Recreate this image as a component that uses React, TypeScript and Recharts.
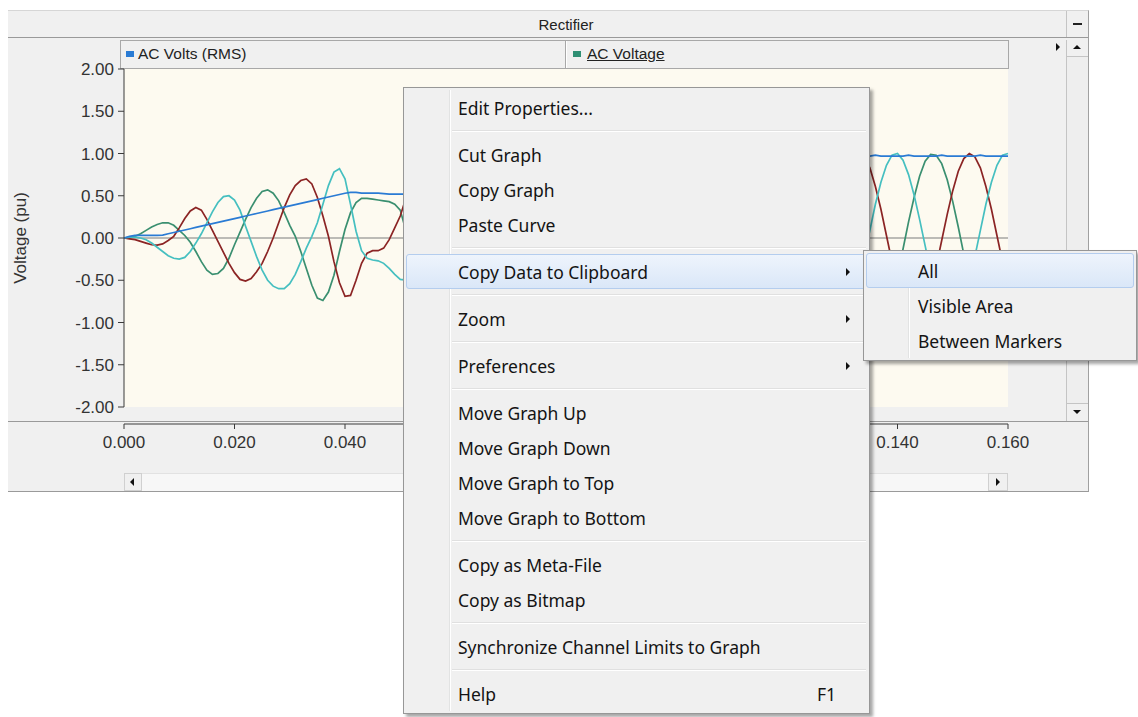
import { LineChart, Line, XAxis, YAxis, CartesianGrid, ReferenceLine, Label } from 'recharts';

// sample times in milliseconds (dense where the trace is visible, sparse behind the menu)
const timeMs = [
  0, 1, 2, 3, 4, 5, 6, 7, 8, 9, 10, 11, 12, 13, 14, 15, 16, 17, 18, 19, 20,
  21, 22, 23, 24, 25, 26, 27, 28, 29, 30, 31, 32, 33, 34, 35, 36, 37, 38, 39, 40,
  41, 42, 43, 44, 45, 46, 47, 48, 49, 50,
  52.5, 55, 57.5, 60, 62.5, 65, 67.5, 70, 72.5, 75, 77.5, 80, 82.5, 85, 87.5, 90,
  92.5, 95, 97.5, 100, 102.5, 105, 107.5, 110, 112.5, 115, 117.5, 120, 122.5, 125,
  127.5, 130, 132.5,
  134, 135, 136, 137, 138, 139, 140, 141, 142, 143, 144, 145, 146, 147, 148, 149,
  150, 151, 152, 153, 154, 155, 156, 157, 158, 159, 160,
];

const acVoltsRms = [
  0, 0.02, 0.03, 0.03, 0.03, 0.03, 0.03, 0.035, 0.05, 0.065, 0.08, 0.095, 0.11, 0.125,
  0.14, 0.155, 0.17, 0.185, 0.2, 0.215, 0.23, 0.245, 0.26, 0.275, 0.29, 0.305, 0.32,
  0.335, 0.35, 0.365, 0.38, 0.395, 0.41, 0.425, 0.44, 0.455, 0.47, 0.485, 0.5, 0.515,
  0.53, 0.54, 0.54, 0.53, 0.53, 0.53, 0.53, 0.525, 0.52, 0.52, 0.52,
  0.52, 0.55, 0.6, 0.65, 0.7, 0.74, 0.78, 0.82, 0.85, 0.88, 0.9, 0.92, 0.93, 0.94,
  0.95, 0.96, 0.96, 0.97, 0.97, 0.97, 0.97, 0.97, 0.97, 0.97, 0.97, 0.97, 0.97, 0.97,
  0.97, 0.97, 0.97, 0.97, 0.97,
  0.97, 0.97, 0.98, 0.97, 0.97, 0.97, 0.97, 0.97, 0.98, 0.97, 0.97, 0.97, 0.97, 0.97,
  0.98, 0.97, 0.97, 0.97, 0.97, 0.97, 0.97, 0.98, 0.97, 0.97, 0.97, 0.97, 0.97,
];

const phaseA = [
  0, -0.01, -0.02, -0.04, -0.06, -0.08, -0.085, -0.07, -0.03, 0.02, 0.12, 0.23, 0.32,
  0.36, 0.33, 0.22, 0.09, -0.04, -0.17, -0.3, -0.41, -0.49, -0.51, -0.48, -0.4, -0.3,
  -0.16, 0, 0.18, 0.36, 0.51, 0.62, 0.68, 0.7, 0.64, 0.48, 0.26, 0.02, -0.28, -0.53,
  -0.69, -0.68, -0.5, -0.3, -0.18, -0.15, -0.15, -0.12, -0.02, 0.12, 0.26,
  0.78, 0.66, 0.15, -0.45, -0.88, -0.75, -0.17, 0.5, 0.88, 0.75, 0.19, -0.56, -0.98,
  -0.83, -0.19, 0.56, 0.98, 0.83, 0.19, -0.56, -0.98, -0.83, -0.19, 0.56, 0.98, 0.83,
  0.19, -0.56, -0.98, -0.83, -0.19, 0.56, 0.98,
  0.96, 0.83, 0.61, 0.34, 0.03, -0.28, -0.56, -0.79, -0.94, -1.0, -0.96, -0.83, -0.61,
  -0.34, -0.03, 0.28, 0.56, 0.79, 0.94, 1.0, 0.96, 0.83, 0.61, 0.34, 0.03, -0.28, -0.56,
];

const phaseB = [
  0, 0, 0.02, 0.05, 0.09, 0.13, 0.16, 0.18, 0.18, 0.15, 0.09, 0.03, -0.05, -0.16,
  -0.28, -0.38, -0.43, -0.42, -0.36, -0.24, -0.08, 0.07, 0.22, 0.36, 0.47, 0.55, 0.57,
  0.53, 0.44, 0.3, 0.15, 0.02, -0.16, -0.36, -0.56, -0.71, -0.74, -0.64, -0.44, -0.16,
  0.1, 0.3, 0.42, 0.47, 0.47, 0.46, 0.45, 0.44, 0.43, 0.4, 0.33,
  -0.27, -0.73, -0.75, -0.34, 0.31, 0.82, 0.85, 0.39, -0.31, -0.82, -0.94, -0.43, 0.34,
  0.91, 0.94, 0.43, -0.34, -0.91, -0.94, -0.43, 0.34, 0.91, 0.94, 0.43, -0.34, -0.91,
  -0.94, -0.43, 0.34, 0.91, 0.94, 0.43, -0.34,
  -0.73, -0.91, -0.99, -0.98, -0.88, -0.69, -0.43, -0.13, 0.19, 0.48, 0.73, 0.91, 0.99,
  0.98, 0.88, 0.69, 0.43, 0.13, -0.19, -0.48, -0.73, -0.91, -0.99, -0.98, -0.88, -0.69,
  -0.43,
];

const phaseC = [
  0, 0.01, 0.01, 0, -0.02, -0.06, -0.11, -0.16, -0.21, -0.24, -0.25, -0.23, -0.16, -0.06,
  0.05, 0.18, 0.31, 0.42, 0.49, 0.5, 0.45, 0.33, 0.14, -0.04, -0.22, -0.38, -0.5, -0.57,
  -0.6, -0.6, -0.54, -0.43, -0.28, -0.12, 0.02, 0.18, 0.4, 0.62, 0.78, 0.82, 0.7, 0.4,
  0.08, -0.15, -0.24, -0.26, -0.27, -0.3, -0.36, -0.43, -0.49,
  -0.51, 0.07, 0.62, 0.8, 0.58, -0.08, -0.69, -0.9, -0.58, 0.08, 0.77, 1.0, 0.64, -0.09,
  -0.77, -1.0, -0.64, 0.09, 0.77, 1.0, 0.64, -0.09, -0.77, -1.0, -0.64, 0.09, 0.77, 1.0,
  0.64, -0.09, -0.77, -1.0, -0.64,
  -0.22, 0.09, 0.4, 0.66, 0.86, 0.98, 1.0, 0.92, 0.75, 0.51, 0.22, -0.09, -0.4, -0.66,
  -0.86, -0.98, -1.0, -0.92, -0.75, -0.51, -0.22, 0.09, 0.4, 0.66, 0.86, 0.98, 1.0,
];

const xTicks = [0, 0.02, 0.04, 0.06, 0.08, 0.1, 0.12, 0.14, 0.16];
const yTicks = [2, 1.5, 1, 0.5, 0, -0.5, -1, -1.5, -2];

const rows = timeMs.map((ms, i) => ({
  t: ms / 1000,
  rms: acVoltsRms[i] ?? null,
  a: phaseA[i] ?? null,
  b: phaseB[i] ?? null,
  c: phaseC[i] ?? null,
}));

type MenuEntry = { label?: string; sep?: boolean; arrow?: boolean; shortcut?: string; hot?: boolean };

const mainMenu: MenuEntry[] = [
  { label: 'Edit Properties...' },
  { sep: true },
  { label: 'Cut Graph' },
  { label: 'Copy Graph' },
  { label: 'Paste Curve' },
  { sep: true },
  { label: 'Copy Data to Clipboard', arrow: true, hot: true },
  { sep: true },
  { label: 'Zoom', arrow: true },
  { sep: true },
  { label: 'Preferences', arrow: true },
  { sep: true },
  { label: 'Move Graph Up' },
  { label: 'Move Graph Down' },
  { label: 'Move Graph to Top' },
  { label: 'Move Graph to Bottom' },
  { sep: true },
  { label: 'Copy as Meta-File' },
  { label: 'Copy as Bitmap' },
  { sep: true },
  { label: 'Synchronize Channel Limits to Graph' },
  { sep: true },
  { label: 'Help', shortcut: 'F1' },
];

const subMenu: MenuEntry[] = [
  { label: 'All', hot: true },
  { label: 'Visible Area' },
  { label: 'Between Markers' },
];

const UI_FONT = '"Liberation Sans", Arial, sans-serif';
const MENU_FONT = '"Noto Sans", "Open Sans", sans-serif';

const abs = (left: number, top: number, width: number, height: number, extra: any = {}) => ({
  position: 'absolute' as const,
  left,
  top,
  width,
  height,
  boxSizing: 'border-box' as const,
  ...extra,
});

const XTick = (props: any) => {
  const { x, y, payload } = props;
  return (
    <text x={x} y={y + 34} textAnchor="middle" fill="#333" fontSize={17}>
      {Number(payload.value).toFixed(3)}
    </text>
  );
};

const Tri = ({ dir, x, y }: { dir: 'up' | 'down' | 'left' | 'right'; x: number; y: number }) => {
  const s = 4;
  const style: any = { position: 'absolute', left: x, top: y, width: 0, height: 0 };
  if (dir === 'right') Object.assign(style, { borderTop: `${s}px solid transparent`, borderBottom: `${s}px solid transparent`, borderLeft: `${s}px solid #111` });
  if (dir === 'left') Object.assign(style, { borderTop: `${s}px solid transparent`, borderBottom: `${s}px solid transparent`, borderRight: `${s}px solid #111` });
  if (dir === 'up') Object.assign(style, { borderLeft: `${s}px solid transparent`, borderRight: `${s}px solid transparent`, borderBottom: `${s}px solid #111` });
  if (dir === 'down') Object.assign(style, { borderLeft: `${s}px solid transparent`, borderRight: `${s}px solid transparent`, borderTop: `${s}px solid #111` });
  return <div style={style} />;
};

const Menu = ({ items, left, top, width, gutter }: { items: MenuEntry[]; left: number; top: number; width: number; gutter: number }) => (
  <div
    style={{
      position: 'absolute',
      left,
      top,
      width,
      background: '#f0f0f0',
      border: '1px solid #979797',
      boxShadow: '3px 3px 3px rgba(0,0,0,0.35)',
      padding: '2px 0',
      boxSizing: 'border-box',
      fontFamily: MENU_FONT,
      fontSize: 17.5,
      color: '#141414',
    }}
  >
    <div style={{ position: 'absolute', left: gutter, top: 2, bottom: 2, width: 1, background: '#e2e3e3' }} />
    <div style={{ position: 'absolute', left: gutter + 1, top: 2, bottom: 2, width: 1, background: '#ffffff' }} />
    {items.map((it, i) =>
      it.sep ? (
        <div key={i} style={{ height: 12, position: 'relative' }}>
          <div style={{ position: 'absolute', left: gutter + 3, right: 3, top: 5, borderTop: '1px solid #e0e0e0', borderBottom: '1px solid #ffffff' }} />
        </div>
      ) : (
        <div
          key={i}
          style={{
            height: 35,
            margin: '0 2px',
            position: 'relative',
            display: 'flex',
            alignItems: 'center',
            paddingLeft: 51,
            boxSizing: 'border-box',
            borderRadius: 3,
            border: it.hot ? '1px solid #b4cdee' : '1px solid transparent',
            background: it.hot ? 'linear-gradient(#eef4fc, #dae7f8)' : 'transparent',
            whiteSpace: 'nowrap',
          }}
        >
          <span>{it.label}</span>
          {it.arrow && <Tri dir="right" x={width - 28} y={13} />}
          {it.shortcut && <span style={{ position: 'absolute', right: 30 }}>{it.shortcut}</span>}
        </div>
      ),
    )}
  </div>
);

export default function App() {
  return (
    <div style={{ position: 'absolute', left: 0, top: 0, width: 1138, height: 717, background: '#ffffff', overflow: 'hidden', fontFamily: UI_FONT }}>
      {/* window panel */}
      <div style={abs(8, 10, 1081, 482, { background: '#f0f0f0', borderTop: '1px solid #d6d6d6', borderRight: '1px solid #a0a0a0', borderBottom: '1px solid #9a9a9a' })} />
      <div style={abs(8, 37, 1080, 1, { background: '#9a9a9a' })} />
      <div style={abs(124, 11, 884, 26, { display: 'flex', alignItems: 'center', justifyContent: 'center', fontSize: 15, color: '#222' })}>Rectifier</div>
      <div style={abs(1066, 11, 22, 26, { borderLeft: '1px solid #c4c4c4' })} />
      <div style={abs(1073, 23, 9, 2, { background: '#222' })} />

      {/* legend strip */}
      <div style={abs(120, 40, 889, 29, { border: '1px solid #a8a8a8', background: '#f0f0f0' })} />
      <div style={abs(565, 41, 1, 27, { background: '#a8a8a8' })} />
      <div style={abs(566, 41, 1, 27, { background: '#ffffff' })} />
      <div style={abs(126, 51, 8, 6, { background: '#2a7bd4' })} />
      <div style={abs(138, 41, 300, 26, { display: 'flex', alignItems: 'center', fontSize: 15.5, color: '#222' })}>AC Volts (RMS)</div>
      <div style={abs(573, 51, 8, 6, { background: '#2f8f74' })} />
      <div style={abs(587, 41, 300, 26, { display: 'flex', alignItems: 'center', fontSize: 15.5, color: '#222', textDecoration: 'underline' })}>AC Voltage</div>
      <Tri dir="right" x={1056} y={43} />

      {/* vertical scrollbar */}
      <div style={abs(1066, 40, 22, 381, { borderLeft: '1px solid #c4c4c4', background: '#eeeeee' })} />
      <div style={abs(1066, 40, 22, 17, { borderLeft: '1px solid #c4c4c4', borderBottom: '1px solid #c4c4c4', background: '#f0f0f0' })} />
      <Tri dir="up" x={1073} y={45} />
      <div style={abs(1066, 403, 22, 18, { borderLeft: '1px solid #c4c4c4', borderTop: '1px solid #c4c4c4', background: '#f0f0f0' })} />
      <Tri dir="down" x={1073} y={410} />

      {/* axis separator and horizontal scrollbar */}
      <div style={abs(8, 421, 1080, 1, { background: '#9a9a9a' })} />
      <div style={abs(124, 473, 884, 18, { background: '#f7f7f7', borderTop: '1px solid #e2e2e2' })} />
      <div style={abs(124, 473, 18, 18, { background: '#f0f0f0', border: '1px solid #d0d0d0' })} />
      <Tri dir="left" x={130} y={478} />
      <div style={abs(988, 473, 20, 18, { background: '#f0f0f0', border: '1px solid #d0d0d0' })} />
      <Tri dir="right" x={996} y={478} />

      {/* chart */}
      <div style={{ position: 'absolute', left: 0, top: 0 }}>
        <LineChart width={1138} height={470} data={rows} margin={{ top: 69, right: 130, bottom: 13, left: 0 }}>
          <CartesianGrid fill="#fdfaf0" stroke="none" horizontal={false} vertical={false} />
          <XAxis
            dataKey="t"
            type="number"
            domain={[0, 0.16]}
            ticks={xTicks}
            interval={0}
            height={50}
            tickSize={5}
            axisLine={{ stroke: '#3a3a3a', transform: 'translate(0,17)' }}
            tickLine={{ stroke: '#3a3a3a', transform: 'translate(0,17)' }}
            tick={<XTick />}
          />
          <YAxis
            type="number"
            domain={[-2, 2]}
            ticks={yTicks}
            interval={0}
            width={124}
            tickSize={6}
            tickMargin={4}
            axisLine={{ stroke: '#3a3a3a' }}
            tickLine={{ stroke: '#3a3a3a' }}
            tick={{ fill: '#333', fontSize: 17 }}
            tickFormatter={(v: number) => v.toFixed(2)}
          >
            <Label value="Voltage (pu)" angle={-90} position="insideLeft" offset={20} style={{ textAnchor: 'middle', fontSize: 17, fill: '#333' }} />
          </YAxis>
          <ReferenceLine y={0} stroke="#7d7d7d" strokeWidth={1.2} />
          <Line type="linear" dataKey="b" stroke="#3a8f70" strokeWidth={1.7} dot={false} isAnimationActive={false} />
          <Line type="linear" dataKey="a" stroke="#8b2424" strokeWidth={1.7} dot={false} isAnimationActive={false} />
          <Line type="linear" dataKey="c" stroke="#45bfc0" strokeWidth={1.7} dot={false} isAnimationActive={false} />
          <Line type="linear" dataKey="rms" stroke="#2a7bd4" strokeWidth={1.7} dot={false} isAnimationActive={false} />
        </LineChart>
      </div>

      {/* context menu */}
      <Menu items={mainMenu} left={403} top={87} width={467} gutter={45} />
      <Menu items={subMenu} left={863} top={250} width={274} gutter={44} />
    </div>
  );
}
